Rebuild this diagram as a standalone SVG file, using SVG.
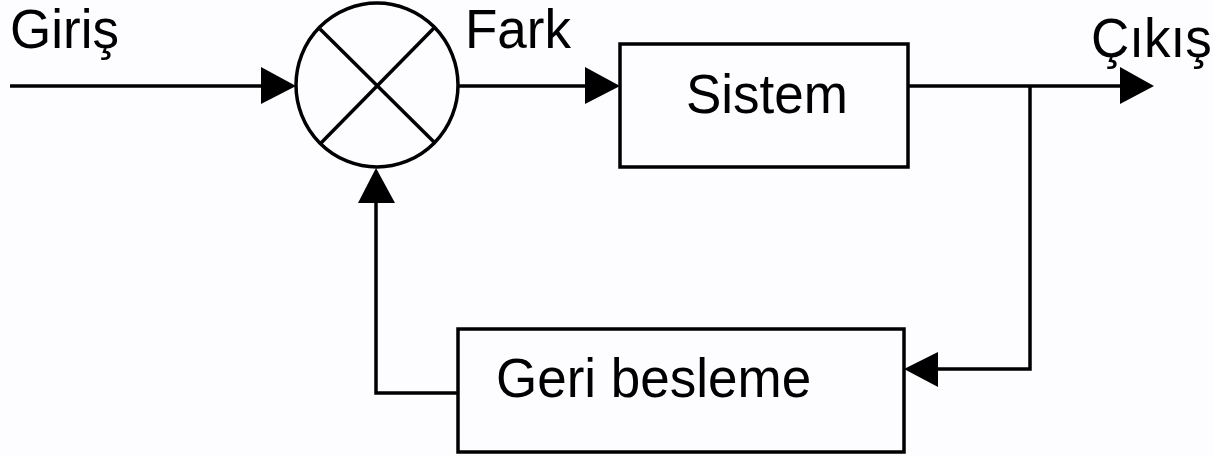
<svg xmlns="http://www.w3.org/2000/svg" width="1213" height="456" viewBox="0 0 1213 456">
  <style>
    .ln { fill: none; stroke: #000; stroke-width: 3.5; }
    .box { fill: none; stroke: #000; stroke-width: 3.5; }
    .lbl { font-family: "Liberation Sans", Arial, sans-serif; font-size: 53px; fill: #000; }
    .ah { fill: #000; stroke: none; }
  </style>
  <rect x="0" y="0" width="1213" height="456" fill="#fdfcfe"/>
  <g id="labels">
    <text class="lbl" x="10" y="48" transform="translate(10 48) scale(1 1.06) translate(-10 -48)">Giriş</text>
    <text class="lbl" x="465" y="48" transform="translate(465 48) scale(1 1.06) translate(-465 -48)">Fark</text>
    <text class="lbl" x="1091" y="57" transform="translate(1091 57) scale(1 1.06) translate(-1091 -57)">Çıkış</text>
  </g>
  <g id="summing-junction">
    <ellipse class="ln" cx="377" cy="85" rx="81" ry="82"/>
    <line class="ln" x1="320" y1="29" x2="434" y2="142"/>
    <line class="ln" x1="434" y1="28" x2="321" y2="143"/>
  </g>
  <g id="sistem">
    <rect class="box" x="620" y="44" width="288" height="123"/>
    <text class="lbl" x="686" y="113" transform="translate(686 113) scale(1 1.06) translate(-686 -113)">Sistem</text>
  </g>
  <g id="geri-besleme">
    <rect class="box" x="458" y="329" width="446" height="123"/>
    <text class="lbl" x="496" y="397" transform="translate(496 397) scale(1 1.06) translate(-496 -397)">Geri besleme</text>
  </g>
  <g id="connectors">
    <line class="ln" x1="10" y1="86" x2="266" y2="86"/>
    <polygon class="ah" points="296,86 261,67 261,104"/>
    <line class="ln" x1="458" y1="86" x2="590" y2="86"/>
    <polygon class="ah" points="620,86 585,67 585,104"/>
    <line class="ln" x1="908" y1="86" x2="1125" y2="86"/>
    <polygon class="ah" points="1154,86 1120,67 1120,104"/>
    <polyline class="ln" points="1030,86 1030,369 934,369"/>
    <polygon class="ah" points="904,369 938,352 938,387"/>
    <polyline class="ln" points="458,393 376,393 376,198"/>
    <polygon class="ah" points="376,168 358,203 395,203"/>
  </g>
</svg>
